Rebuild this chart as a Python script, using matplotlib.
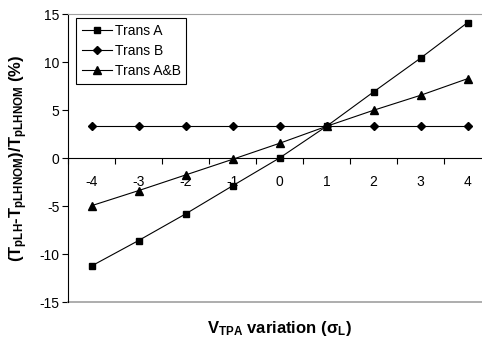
import matplotlib.pyplot as plt

plt.rcParams['font.family'] = ['Liberation Sans', 'DejaVu Sans']
plt.rcParams['mathtext.fontset'] = 'custom'
plt.rcParams['mathtext.rm'] = 'Liberation Sans:bold'
plt.rcParams['mathtext.bf'] = 'Liberation Sans:bold'
plt.rcParams['mathtext.default'] = 'rm'
plt.rcParams['axes.unicode_minus'] = False

# variacion de V_TPA en sigmas
sigmas = [-4, -3, -2, -1, 0, 1, 2, 3, 4]
trans_a = [-11.25, -8.6, -5.83, -2.9, 0.0, 3.3, 6.88, 10.4, 14.1]
trans_b = [3.33, 3.33, 3.33, 3.33, 3.33, 3.33, 3.33, 3.33, 3.33]
trans_ab = [-4.97, -3.4, -1.77, -0.14, 1.53, 3.3, 4.97, 6.53, 8.26]

fig = plt.figure(figsize=(4.82, 3.43), dpi=100)
ax = fig.add_axes([68 / 482, 41 / 343, 423 / 482, 288 / 343])

ax.plot(sigmas, trans_a, color='black', lw=0.8, marker='s', ms=5, label='Trans A')
ax.plot(sigmas, trans_b, color='black', lw=0.8, marker='D', ms=4.2, label='Trans B')
ax.plot(sigmas, trans_ab, color='black', lw=0.8, marker='^', ms=5.5, label='Trans A&B')

ax.set_xlim(-4.5, 4.5)
ax.set_ylim(-15, 15)
ax.set_yticks([-15, -10, -5, 0, 5, 10, 15])
ax.tick_params(axis='y', direction='out', length=4, width=0.8, labelsize=10, pad=2)

# eje x cruzando en y=0, marcas entre categorias
ax.spines['bottom'].set_position(('data', 0))
ax.spines['bottom'].set_linewidth(0.8)
ax.set_xticks([s - 0.5 for s in sigmas] + [4.5])
ax.set_xticklabels([])
ax.set_xticks(sigmas, minor=True)
ax.set_xticklabels([str(s) for s in sigmas], minor=True)
ax.tick_params(axis='x', which='major', direction='out', length=4, width=0.8)
ax.tick_params(axis='x', which='minor', length=0, labelsize=10, pad=12)

ax.spines['left'].set_linewidth(0.8)
ax.spines['top'].set_color('#a0a0a0')
ax.spines['right'].set_visible(False)
ax.axhline(-15, color='#a0a0a0', lw=1.2, clip_on=False)

leg = ax.legend(loc='upper left', bbox_to_anchor=(0.019, 0.986), borderaxespad=0,
                fancybox=False, framealpha=1, edgecolor='black', fontsize=10,
                handlelength=2.2, handletextpad=0.2, labelspacing=0.45,
                borderpad=0.4)
leg.get_frame().set_linewidth(0.8)

fig.text(19 / 482, 1 - 158 / 343,
         r'(T$_{\mathrm{pLH}}$-T$_{\mathrm{pLHNOM}}$)/T$_{\mathrm{pLHNOM}}$ (%)',
         rotation=90, ha='center', va='center', fontsize=12, fontweight='bold')
fig.text(279.5 / 482, 1 - 328 / 343, r'V$_{\mathrm{TPA}}$ variation ($\sigma_{\mathrm{L}}$)',
         ha='center', va='center', fontsize=12, fontweight='bold')

fig.savefig('out.png', dpi=100)
